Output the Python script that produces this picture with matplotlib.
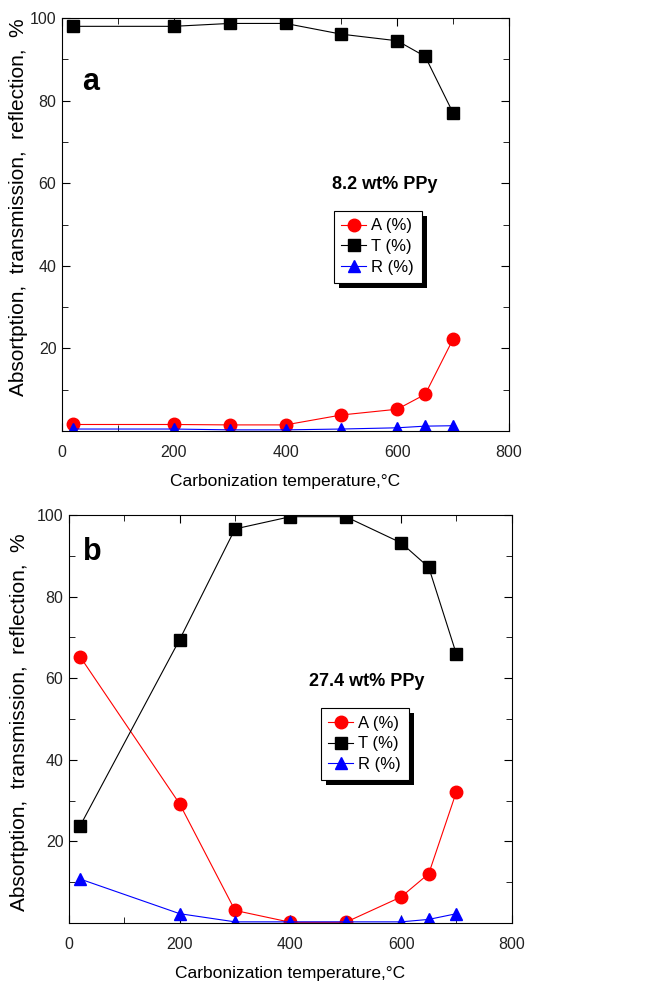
import matplotlib
matplotlib.use('Agg')
import matplotlib.pyplot as plt
from matplotlib import font_manager
from matplotlib.ticker import MultipleLocator
from matplotlib.patches import Rectangle
from matplotlib.transforms import IdentityTransform

names = {f.name for f in font_manager.fontManager.ttflist}
narrow = 'Liberation Sans Narrow' if 'Liberation Sans Narrow' in names else 'Liberation Sans'
plt.rcParams['font.family'] = ['Liberation Sans', 'DejaVu Sans']

# data
temp = [20, 200, 300, 400, 500, 600, 650, 700]  # deg C

# panel a: 8.2 wt% PPy
A_a = [1.6, 1.6, 1.5, 1.5, 3.9, 5.3, 8.9, 22.3]
T_a = [98.0, 98.0, 98.7, 98.7, 96.1, 94.5, 90.7, 77.0]
R_a = [0.5, 0.5, 0.3, 0.3, 0.5, 0.8, 1.2, 1.3]

# panel b: 27.4 wt% PPy
A_b = [65.3, 29.2, 3.1, 0.2, 0.2, 6.4, 12.1, 32.2]
T_b = [23.8, 69.5, 96.6, 99.6, 99.6, 93.2, 87.2, 65.9]
R_b = [10.8, 2.3, 0.3, 0.3, 0.3, 0.3, 0.9, 2.3]

ylab = 'Absortption,  transmission,  reflection,  %'

panels = [
    dict(A=A_a, T=T_a, R=R_a, letter='a', note='8.2 wt% PPy',
         rect=[0.0948, 0.561, 0.6835, 0.4206], ylab_xy=(-0.076, 0.542),
         letter_xy=(52, 84.6), note_xy=(578, 59.6), leg=(0.608, 0.533)),
    dict(A=A_b, T=T_b, R=R_b, letter='b', note='27.4 wt% PPy',
         rect=[0.1055, 0.060, 0.677, 0.4155], ylab_xy=(-0.090, 0.493),
         letter_xy=(43, 91), note_xy=(538, 59.1), leg=(0.569, 0.527)),
]

fig = plt.figure(figsize=(6.54, 9.82), dpi=100)
legends = []

for p in panels:
    ax = fig.add_axes(p['rect'])
    ax.plot(temp, p['A'], c='red', lw=0.8, marker='o', ms=9, mec='red', label='A (%)')
    ax.plot(temp, p['T'], c='black', lw=0.8, marker='s', ms=8.5, label='T (%)')
    ax.plot(temp, p['R'], c='blue', lw=0.8, marker='^', ms=9, mec='blue', label='R (%)')

    ax.set_xlim(0, 800)
    ax.set_ylim(0, 100)
    ax.xaxis.set_major_locator(MultipleLocator(200))
    ax.xaxis.set_minor_locator(MultipleLocator(100))
    ax.yaxis.set_minor_locator(MultipleLocator(10))
    ax.set_yticks([20, 40, 60, 80, 100])
    ax.tick_params(which='both', direction='in', top=True, right=True)
    ax.tick_params(which='major', length=6, labelsize=11.5)
    ax.tick_params(axis='x', which='major', pad=10)
    ax.tick_params(axis='y', which='major', pad=4)
    ax.tick_params(which='minor', length=4)
    for lab in ax.get_xticklabels() + ax.get_yticklabels():
        lab.set_family(narrow)
        lab.set_color('#222222')

    ax.set_xlabel('Carbonization temperature,°C', fontsize=12.5, labelpad=10)
    ax.set_ylabel(ylab, fontsize=15)
    ax.yaxis.set_label_coords(*p['ylab_xy'])

    ax.text(*p['letter_xy'], p['letter'], fontsize=22, fontweight='bold', ha='center', va='center')
    ax.text(*p['note_xy'], p['note'], fontsize=13, fontweight='bold', ha='center', va='center',
            family=narrow)

    leg = ax.legend(loc='upper left', bbox_to_anchor=p['leg'], borderaxespad=0,
                    fancybox=False, edgecolor='black', framealpha=1, fontsize=12,
                    handlelength=1.5, handletextpad=0.3, labelspacing=0.35, borderpad=0.45)
    leg.get_frame().set_linewidth(0.8)
    legends.append((ax, leg))

# solid black drop shadow behind each legend box
fig.canvas.draw()
for ax, leg in legends:
    bb = leg.get_window_extent()
    ax.add_patch(Rectangle((bb.x0 + 5, bb.y0 - 5), bb.width, bb.height,
                           transform=IdentityTransform(), facecolor='black',
                           edgecolor='none', zorder=4.9, clip_on=False))

fig.savefig('out.png', dpi=100)
